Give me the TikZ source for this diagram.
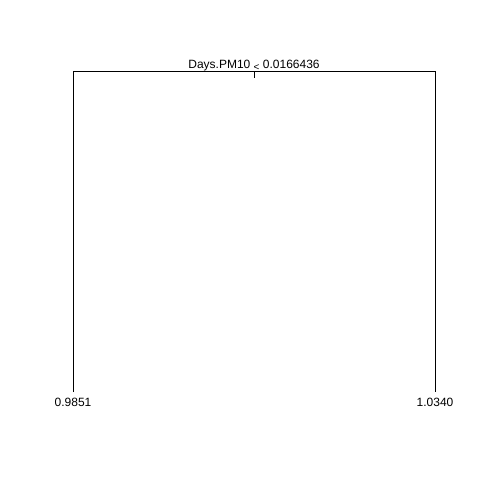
\documentclass[tikz,border=0pt]{standalone}
\usepackage{fontspec}
\setmainfont{Liberation Sans}
\usetikzlibrary{positioning}
\tikzset{
    splitlabel/.style={anchor=base, inner sep=0pt, font=\fontsize{12}{14}\selectfont},
    leaflabel/.style={anchor=base, inner sep=0pt, font=\fontsize{12}{14}\selectfont},
    branch/.style={line width=0.8pt, draw=black}
}

\begin{document}
\begin{tikzpicture}[x=1pt, y=-1pt]

    \useasboundingbox (0,0) rectangle (480,480);

    % split
    \coordinate (root) at (254,71);
    \coordinate (roottick) at (254,78);
    \coordinate (leftcorner) at (73,71);
    \coordinate (rightcorner) at (435,71);
    \node[splitlabel] (split) at (254,68.5) {Days.PM10 \raisebox{-1.5pt}{\fontsize{10}{10}\selectfont<} 0.0166436};

    % leaves
    \coordinate (lefttip) at (73,392);
    \coordinate (righttip) at (435,392);
    \node[leaflabel] (leftleaf) at (73,406) {0.9851};
    \node[leaflabel] (rightleaf) at (435,406) {1.0340};

    \draw[branch] (lefttip) -- (leftcorner) -- (rightcorner) -- (righttip);
    \draw[branch] (root) -- (roottick);

\end{tikzpicture}
\end{document}
